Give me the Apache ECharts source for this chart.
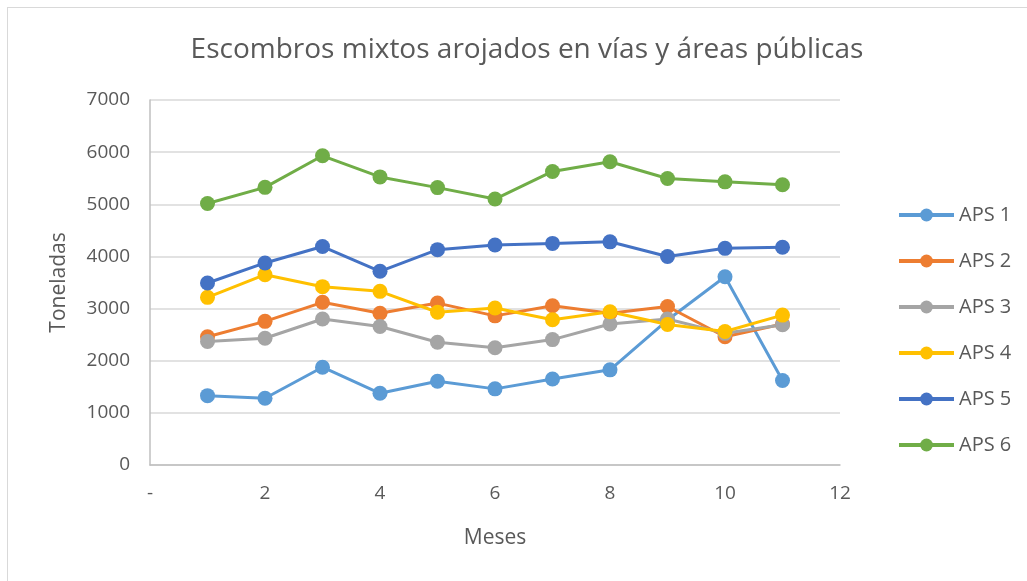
<!DOCTYPE html>
<html lang="es">
<head>
	<meta charset="UTF-8">
	<title>Escombros mixtos</title>
	<script src="https://cdn.jsdelivr.net/npm/echarts@6/dist/echarts.min.js"></script>
	<style>
		html, body {margin: 0; padding: 0; background: #fff;}
		.frame {
			position: absolute; left: 7px; top: 7px;
			width: 1040px; height: 600px;
			border-left: 1px solid #d9d9d9; border-top: 1px solid #d9d9d9;
		}
		#box {position: absolute; left: 0; top: 0; width: 1027px; height: 581px;}
	</style>
</head>
<body>
<div class="frame"></div>
<div id="box"></div>
<script>
	// meses 1..11
	let meses = [1, 2, 3, 4, 5, 6, 7, 8, 9, 10, 11];
	let nombres = ['APS 1', 'APS 2', 'APS 3', 'APS 4', 'APS 5', 'APS 6'];
	let colores = ['#5B9BD5', '#ED7D31', '#A5A5A5', '#FFC000', '#4472C4', '#70AD47'];

	let aps1 = [1330, 1280, 1875, 1375, 1605, 1460, 1650, 1825, 2780, 3610, 1620];
	let aps2 = [2460, 2755, 3120, 2910, 3105, 2860, 3055, 2910, 3040, 2460, 2705];
	let aps3 = [2370, 2430, 2800, 2655, 2355, 2250, 2405, 2705, 2800, 2525, 2690];
	let aps4 = [3215, 3650, 3420, 3330, 2930, 3010, 2785, 2940, 2695, 2560, 2875];
	let aps5 = [3490, 3875, 4190, 3715, 4130, 4220, 4250, 4280, 4000, 4155, 4175];
	let aps6 = [5015, 5325, 5930, 5525, 5320, 5100, 5630, 5815, 5495, 5430, 5375];

	let valores = [aps1, aps2, aps3, aps4, aps5, aps6];
	let gris = '#595959';
	let fuente = 'Open Sans';

	let chart = echarts.init(document.getElementById('box'));
	let options = {
		animation: false,
		title: {
			text: 'Escombros mixtos arojados en vías y áreas públicas',
			left: 522, top: 31, textAlign: 'center',
			textStyle: {fontFamily: fuente, fontSize: 28, fontWeight: 'normal', color: gris}
		},
		legend: {
			orient: 'vertical',
			left: 892, top: 200,
			itemWidth: 55, itemHeight: 16, itemGap: 26,
			lineStyle: {width: 4},
			textStyle: {fontFamily: fuente, fontSize: 20, color: gris},
			data: nombres
		},
		grid: {left: 150, right: 187, top: 100, bottom: 116},
		xAxis: {
			type: 'value', min: 0, max: 12, interval: 2,
			name: 'Meses', nameLocation: 'middle', nameGap: 63,
			nameTextStyle: {fontFamily: fuente, fontSize: 21, color: gris},
			axisLine: {show: true, lineStyle: {color: '#bfbfbf', width: 1.5}},
			axisTick: {show: false},
			splitLine: {show: false},
			axisLabel: {
				margin: 19, fontFamily: fuente, fontSize: 19, color: gris,
				formatter: v => v === 0 ? '-' : String(v)
			}
		},
		yAxis: {
			type: 'value', min: 0, max: 7000, interval: 1000,
			name: 'Toneladas', nameLocation: 'middle', nameGap: 80,
			nameTextStyle: {fontFamily: fuente, fontSize: 21, color: gris},
			axisLine: {show: true, lineStyle: {color: '#bfbfbf', width: 1.5}},
			axisTick: {show: false},
			splitLine: {lineStyle: {color: '#d9d9d9', width: 1.5}},
			axisLabel: {margin: 20, fontFamily: fuente, fontSize: 19, color: gris, formatter: v => String(v)}
		},
		series: nombres.map((n, i) => ({
			name: n,
			type: 'line',
			symbol: 'circle',
			symbolSize: 15,
			itemStyle: {color: colores[i]},
			lineStyle: {color: colores[i], width: 3},
			data: meses.map((m, j) => [m, valores[i][j]])
		}))
	};
	chart.setOption(options);
</script>
</body>
</html>
